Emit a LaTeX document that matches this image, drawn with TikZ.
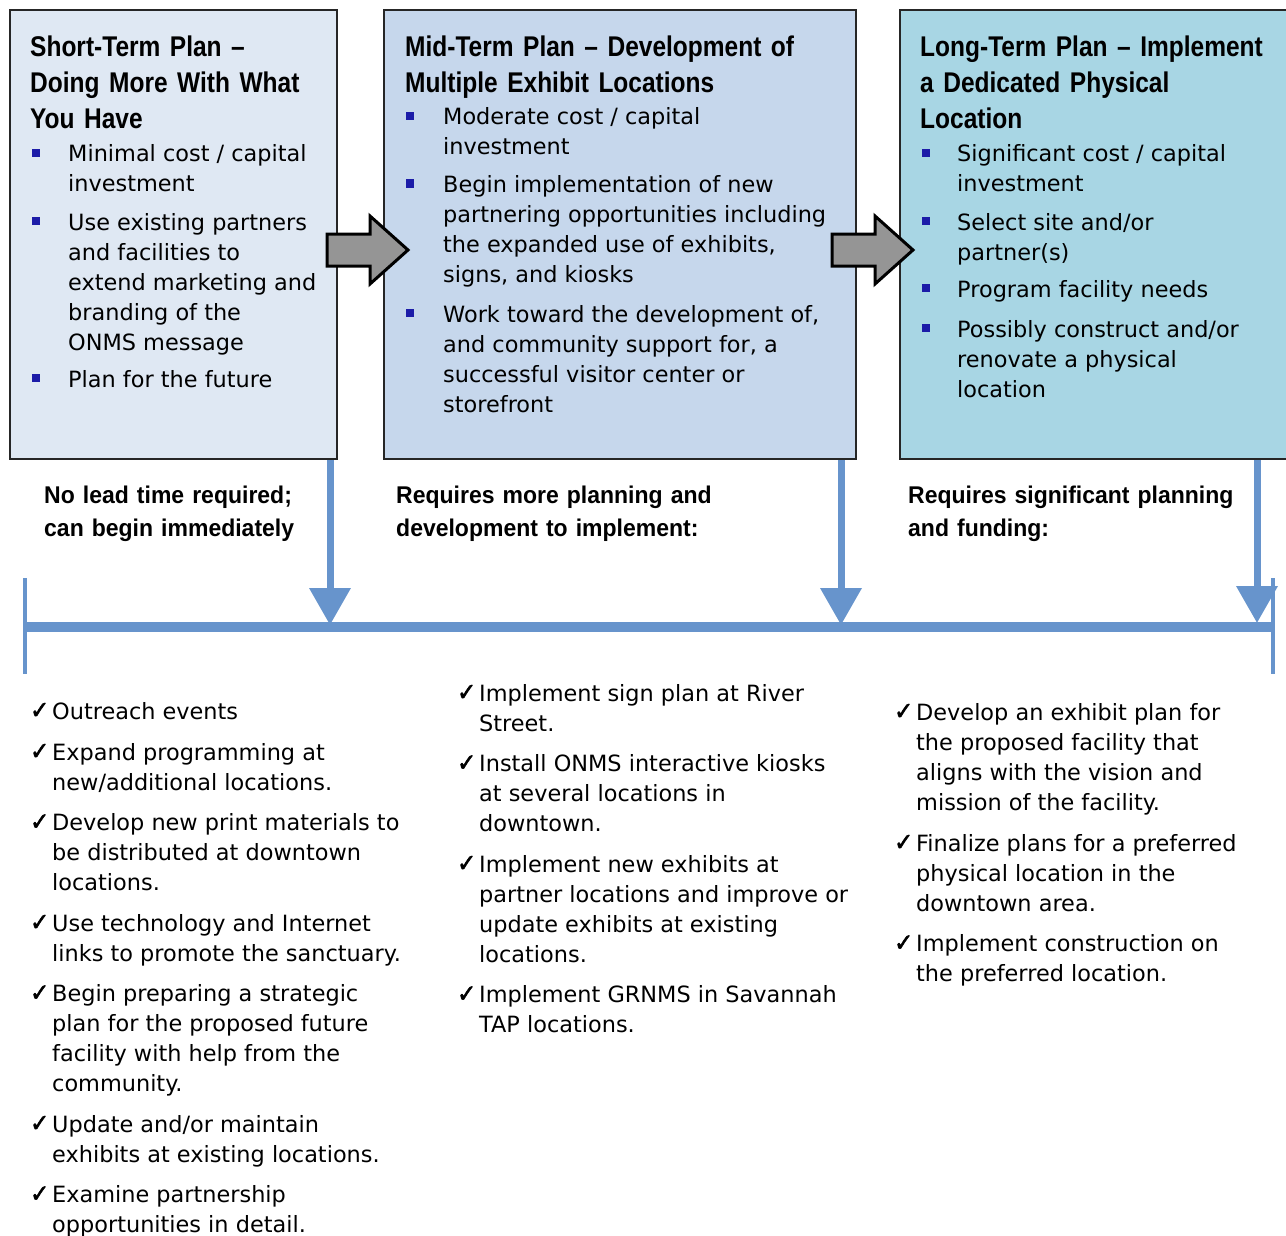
\documentclass[tikz,border=0pt]{standalone}
\usepackage{fontspec}
\usepackage{graphicx}
\setmainfont{DejaVu Sans}
\newfontfamily\hdfont[FakeStretch=0.86]{Liberation Sans}
\newfontfamily\lbfont[FakeStretch=0.95]{Liberation Sans}
\newfontfamily\ckfont[FakeBold=2.5]{DejaVu Sans}
\usetikzlibrary{arrows.meta}
\definecolor{boxA}{HTML}{DFE8F3}
\definecolor{boxB}{HTML}{C6D7EC}
\definecolor{boxC}{HTML}{A8D6E4}
\definecolor{tlblue}{HTML}{6794CC}
\definecolor{bulblue}{HTML}{1C1CA8}
\definecolor{arrgray}{HTML}{959595}
\newcommand{\bl}[2]{\makebox[#1][l]{\textcolor{bulblue}{\raisebox{5pt}{\rule{7.5pt}{8.5pt}}}}\parbox[t]{400pt}{#2}}
\newcommand{\ck}[1]{\makebox[22pt][l]{\raisebox{0.5pt}{\resizebox{19pt}{15.5pt}{\ckfont ✓}}}\parbox[t]{400pt}{#1}}
\tikzset{
  planbox/.style={draw=black!85, line width=2pt, anchor=north west, inner sep=0pt},
  heading/.style={anchor=base west, inner sep=0pt, text width=460pt, align=left,
    font=\hdfont\bfseries\fontsize{28.5}{36}\selectfont},
  bitem/.style={anchor=base west, inner sep=0pt,
    font=\fontsize{22.4}{30}\selectfont},
  citem/.style={anchor=base west, inner sep=0pt,
    font=\fontsize{22.4}{30}\selectfont},
  lbl/.style={anchor=base west, inner sep=0pt, text width=380pt, align=left,
    font=\lbfont\bfseries\fontsize{24.2}{33}\selectfont},
  grayarr/.style={draw=black, line width=3pt, fill=arrgray, line join=miter},
  bluearr/.style={draw=tlblue, line width=7pt, -{Triangle[width=40pt,length=37pt]}},
  tick/.style={draw=tlblue, line width=4pt},
  bar/.style={draw=tlblue, line width=10pt}
}
\begin{document}
\begin{tikzpicture}[x=1pt,y=-1pt]
\useasboundingbox (0,0) rectangle (1286,1236);
\fill[white] (0,0) rectangle (1286,1236);

% boxes
\node[planbox, fill=boxA, minimum width=327pt, minimum height=449pt] (box1) at (9,9) {};
\node[planbox, fill=boxB, minimum width=472pt, minimum height=449pt] (box2) at (383,9) {};
\node[planbox, fill=boxC, minimum width=387pt, minimum height=449pt] (box3) at (899,9) {};

% headings
\node[heading] (h1) at (30,57) {Short-Term Plan –\\Doing More With What\\You Have};
\node[heading] (h2) at (405,57) {Mid-Term Plan – Development of\\Multiple Exhibit Locations};
\node[heading] (h3) at (920,57) {Long-Term Plan – Implement\\a Dedicated Physical\\Location};

% box 1 bullets
\node[bitem] (b1a) at (32,162) {\bl{36pt}{Minimal cost / capital\\investment}};
\node[bitem] (b1b) at (32,230) {\bl{36pt}{Use existing partners\\and facilities to\\extend marketing and\\branding of the\\ONMS message}};
\node[bitem] (b1c) at (32,387) {\bl{36pt}{Plan for the future}};

% box 2 bullets
\node[bitem] (b2a) at (406,125) {\bl{37pt}{Moderate cost / capital\\investment}};
\node[bitem] (b2b) at (406,193) {\bl{37pt}{Begin implementation of new\\partnering opportunities including\\the expanded use of exhibits,\\signs, and kiosks}};
\node[bitem] (b2c) at (406,322) {\bl{37pt}{Work toward the development of,\\and community support for, a\\successful visitor center or\\storefront}};

% box 3 bullets
\node[bitem] (b3a) at (922,162) {\bl{35pt}{Significant cost / capital\\investment}};
\node[bitem] (b3b) at (922,230) {\bl{35pt}{Select site and/or\\partner(s)}};
\node[bitem] (b3c) at (922,297) {\bl{35pt}{Program facility needs}};
\node[bitem] (b3d) at (922,337) {\bl{35pt}{Possibly construct and/or\\renovate a physical\\location}};

% gray block arrows between boxes
\draw[grayarr] (327,234) -- (370,234) -- (370,216) -- (408,250) -- (370,284) -- (370,266) -- (327,266) -- cycle;
\draw[grayarr] (832,234) -- (875,234) -- (875,216) -- (913,250) -- (875,284) -- (875,266) -- (832,266) -- cycle;

% timeline
\coordinate (tlL) at (25,627);
\coordinate (tlR) at (1273,627);
\draw[bar] (tlL) -- (tlR);
\draw[tick] (25,578) -- (25,674);
\draw[tick] (1273,578) -- (1273,674);

% blue arrows
\coordinate (t1) at (330,625);
\coordinate (t2) at (841,625);
\coordinate (t3) at (1257,623);
\draw[bluearr] (t1 |- box1.south) -- (t1);
\draw[bluearr] (t2 |- box2.south) -- (t2);
\draw[bluearr] (t3 |- box3.south) -- (t3);

% labels
\node[lbl] (l1) at (44,503) {No lead time required;\\can begin immediately};
\node[lbl] (l2) at (396,503) {Requires more planning and\\development to implement:};
\node[lbl] (l3) at (908,503) {Requires significant planning\\and funding:};

% column 1 checklist
\node[citem] (c1a) at (30,719) {\ck{Outreach events}};
\node[citem] (c1b) at (30,760) {\ck{Expand programming at\\new/additional locations.}};
\node[citem] (c1c) at (30,830.5) {\ck{Develop new print materials to\\be distributed at downtown\\locations.}};
\node[citem] (c1d) at (30,931) {\ck{Use technology and Internet\\links to promote the sanctuary.}};
\node[citem] (c1e) at (30,1001.5) {\ck{Begin preparing a strategic\\plan for the proposed future\\facility with help from the\\community.}};
\node[citem] (c1f) at (30,1132) {\ck{Update and/or maintain\\exhibits at existing locations.}};
\node[citem] (c1g) at (30,1202.5) {\ck{Examine partnership\\opportunities in detail.}};

% column 2 checklist
\node[citem] (c2a) at (457,701) {\ck{Implement sign plan at River\\Street.}};
\node[citem] (c2b) at (457,771.5) {\ck{Install ONMS interactive kiosks\\at several locations in\\downtown.}};
\node[citem] (c2c) at (457,872) {\ck{Implement new exhibits at\\partner locations and improve or\\update exhibits at existing\\locations.}};
\node[citem] (c2d) at (457,1002.5) {\ck{Implement GRNMS in Savannah\\TAP locations.}};

% column 3 checklist
\node[citem] (c3a) at (894,720) {\ck{Develop an exhibit plan for\\the proposed facility that\\aligns with the vision and\\mission of the facility.}};
\node[citem] (c3b) at (894,851) {\ck{Finalize plans for a preferred\\physical location in the\\downtown area.}};
\node[citem] (c3c) at (894,951.5) {\ck{Implement construction on\\the preferred location.}};
\end{tikzpicture}
\end{document}
